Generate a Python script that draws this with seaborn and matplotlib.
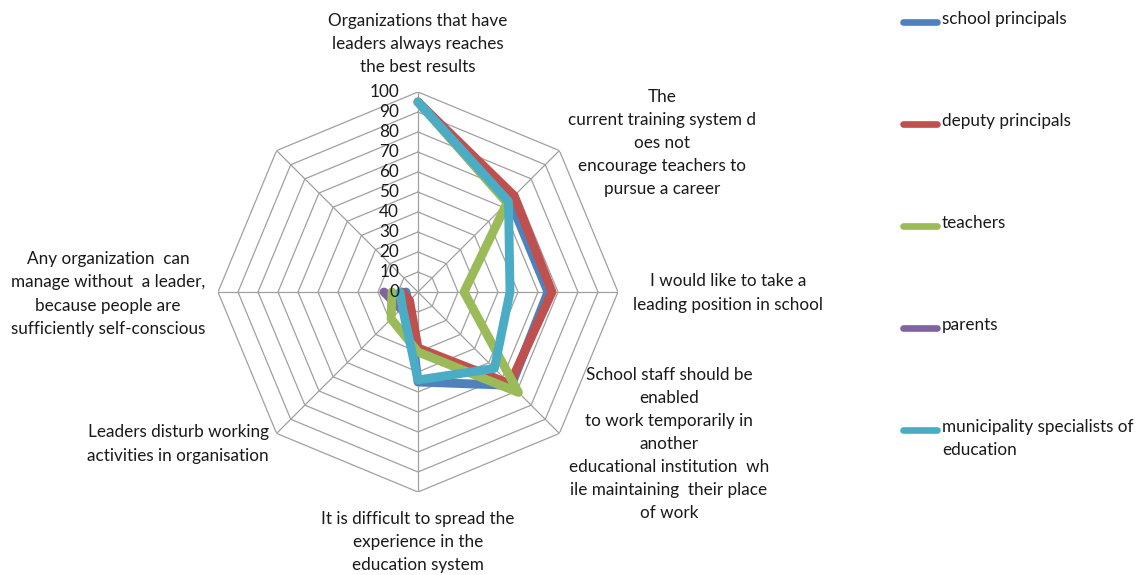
import numpy as np
import pandas as pd
import matplotlib
matplotlib.use("Agg")
import matplotlib.pyplot as plt
import seaborn as sns
from matplotlib.transforms import ScaledTranslation
from matplotlib.lines import Line2D

# ---------------- data ----------------
categories = [
    "Organizations that have\nleaders always reaches\nthe best results",
    "The\ncurrent training system d\noes not\nencourage teachers to\npursue a career",
    "I would like to take a\nleading position in school",
    "School staff should be\nenabled\nto work temporarily in\nanother\neducational institution  wh\nile maintaining  their place\nof work",
    "It is difficult to spread the\nexperience in the\neducation system",
    "Leaders disturb working\nactivities in organisation",
    "Any organization  can\nmanage without  a leader,\nbecause people are\nsufficiently self-conscious",
    "",
]
series_names = [
    "school principals",
    "deputy principals",
    "teachers",
    "parents",
    "municipality specialists of\neducation",
]
school_principals = [95, 65, 65, 66, 45, 7, 6, np.nan]
deputy_principals = [95, 68, 67, 65, 28, 6, 8, np.nan]
teachers = [95, 63, 23, 71, 30, 19, 13, np.nan]
parents = [np.nan, np.nan, np.nan, np.nan, np.nan, 12, 17, np.nan]
municipality_specialists = [95, 64, 46, 54, 44, 11, 9, np.nan]
r_ticks = [0, 10, 20, 30, 40, 50, 60, 70, 80, 90, 100]

series_values = [school_principals, deputy_principals, teachers, parents,
                 municipality_specialists]
colors = ["#4F81BD", "#C0504D", "#9BBB59", "#8064A2", "#4BACC6"]
draw_order = [0, 1, 3, 2, 4]

# ---------------- style ----------------
sns.set_theme(style="white")
plt.rcParams["font.family"] = ["Lato", "DejaVu Sans"]
FS = 12.3
TXT = "#1a1a1a"

W, H = 1145, 575
fig = plt.figure(figsize=(W / 100, H / 100), dpi=100)
cx, cy, R = 418, 292, 200
ax = fig.add_axes([(cx - R) / W, (H - cy - R) / H, 2 * R / W, 2 * R / H],
                  projection="polar")
ax.set_theta_zero_location("N")
ax.set_theta_direction(-1)
ax.set_facecolor("none")

n = len(categories)
angles = np.arange(n) * 2 * np.pi / n

# octagon grid
grid_col = "#A0A0A0"
closed = np.append(angles, angles[0])
for r in r_ticks[1:]:
    ax.plot(closed, [r] * len(closed), color=grid_col, lw=0.9, zorder=1)
for a in angles:
    ax.plot([a, a], [0, r_ticks[-1]], color=grid_col, lw=0.9, zorder=1)

# series
lw = 6.4
for i in draw_order:
    df = pd.DataFrame({"theta": angles, "value": series_values[i]})
    sns.lineplot(data=df, x="theta", y="value", ax=ax, sort=False,
                 estimator=None, color=colors[i], linewidth=lw,
                 solid_capstyle="round", solid_joinstyle="round",
                 zorder=3 + draw_order.index(i))

ax.set_ylim(0, r_ticks[-1])
ax.set_xlim(0, 2 * np.pi)
ax.grid(False)
ax.spines["polar"].set_visible(False)
ax.set_xticks([])
ax.set_yticks([])
ax.set_xlabel("")
ax.set_ylabel("")

# radial tick labels along top axis
off = ax.transData + ScaledTranslation(-19 / 100, 0, fig.dpi_scale_trans)
for t in r_ticks:
    ax.text(0, t, str(t), transform=off, ha="right", va="center",
            fontsize=FS, color=TXT, zorder=10)

# category labels (pixel anchors: center x, center y)
label_pos = [(418, 44), (662, 143), (728, 293), (669, 444), (418, 542),
             (178, 444), (108, 294), (275, 140)]
for lab, (px, py) in zip(categories, label_pos):
    if lab:
        fig.text(px / W, 1 - py / H, lab, ha="center", va="center",
                 multialignment="center", fontsize=FS, color=TXT,
                 linespacing=1.55)

# legend (manual, right side)
leg_y = [22, 124, 226, 328, 430]
for name, col, y in zip(series_names, colors, leg_y):
    fig.add_artist(Line2D([903 / W, 937 / W], [1 - y / H, 1 - y / H],
                          color=col, lw=4.8, solid_capstyle="round",
                          transform=fig.transFigure))
    fig.text(942 / W, 1 - (y - 11) / H, name, ha="left", va="top",
             fontsize=FS, color=TXT, linespacing=1.55)

fig.savefig("out.png", dpi=100)
